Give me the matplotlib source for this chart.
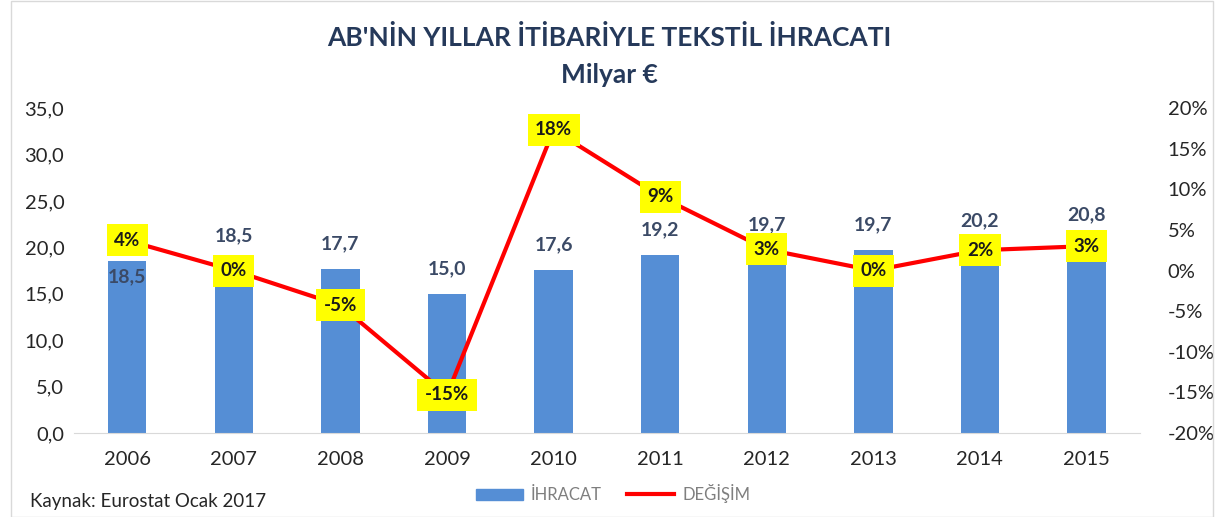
import matplotlib.pyplot as plt
import numpy as np

plt.rcParams['font.family'] = ['Lato', 'DejaVu Sans']

# Data
years = ['2006', '2007', '2008', '2009', '2010', '2011', '2012', '2013', '2014', '2015']
ihracat = [18.5, 18.5, 17.7, 15.0, 17.6, 19.2, 19.7, 19.7, 20.2, 20.8]   # milyar €
degisim = [3.7, 0.0, -4.3, -15.3, 17.3, 9.1, 2.6, 0.0, 2.5, 3.0]         # %
degisim_labels = ['4%', '0%', '-5%', '-15%', '18%', '9%', '3%', '0%', '2%', '3%']

bar_color = '#558ED5'
label_color = '#3B4A66'
title_color = '#25395A'

fig = plt.figure(figsize=(12.19, 5.17), dpi=100)
ax = fig.add_axes([0.0607, 0.1625, 0.8743, 0.6285])
x = np.arange(len(years))

# Bars
ax.bar(x, ihracat, width=0.36, color=bar_color, zorder=2)
ax.set_xlim(-0.5, len(years) - 0.5)
ax.set_ylim(0, 35)
ax.set_yticks(np.arange(0, 36, 5))
ax.set_yticklabels([f'{v:.1f}'.replace('.', ',') for v in np.arange(0, 36, 5)])
ax.set_xticks(x)
ax.set_xticklabels(years)
ax.tick_params(axis='both', length=0, labelsize=14.5, colors='#262626')
ax.tick_params(axis='x', pad=13)
ax.tick_params(axis='y', pad=7)
for s in ['top', 'right', 'left']:
    ax.spines[s].set_visible(False)
ax.spines['bottom'].set_color('#D9D9D9')

# Bar value labels
for i, v in enumerate(ihracat):
    txt = f'{v:.1f}'.replace('.', ',')
    dy = -11 if i == 0 else 18
    ax.annotate(txt, (i, v), xytext=(0, dy), textcoords='offset points',
                ha='center', va='center', fontsize=14, fontweight='bold',
                color=label_color, zorder=3)

# Percent change line
ax2 = ax.twinx()
ax2.plot(x, degisim, color='#FF0000', linewidth=3, zorder=4)
ax2.set_ylim(-20, 20)
ax2.set_yticks(np.arange(-20, 21, 5))
ax2.set_yticklabels([f'{v}%' for v in np.arange(-20, 21, 5)])
ax2.tick_params(axis='y', length=0, labelsize=14.5, colors='#262626', pad=20)
for s in ['top', 'right', 'left', 'bottom']:
    ax2.spines[s].set_visible(False)

for i, (v, lab) in enumerate(zip(degisim, degisim_labels)):
    ax2.text(i, v, lab, ha='center', va='center', fontsize=13.5, fontweight='bold',
             color='#1A1A1A', zorder=5,
             bbox=dict(boxstyle='square,pad=0.4', facecolor='#FFFF00', edgecolor='none'))

# Titles
fig.text(0.5, 0.928, "AB'NİN YILLAR İTİBARİYLE TEKSTİL İHRACATI", ha='center', va='center',
         fontsize=19, fontweight='bold', color=title_color)
fig.text(0.5, 0.855, 'Milyar €', ha='center', va='center',
         fontsize=19, fontweight='bold', color=title_color)

# Legend
h1 = plt.Rectangle((0, 0), 1, 1, color=bar_color)
h2 = plt.Line2D([0], [0], color='#FF0000', linewidth=3)
leg = fig.legend([h1, h2], ['İHRACAT', 'DEĞİŞİM'], loc='center', bbox_to_anchor=(0.503, 0.045),
                 ncol=2, frameon=False, fontsize=12, handlelength=2.8, handletextpad=0.5,
                 columnspacing=1.5)
for t in leg.get_texts():
    t.set_color('#7F7F7F')

fig.text(0.025, 0.03, 'Kaynak: Eurostat Ocak 2017', ha='left', va='center', fontsize=13.5, color='#262626')

# Chart border
fig.add_artist(plt.Rectangle((0.009, 0.0), 0.986, 0.999, transform=fig.transFigure,
                             fill=False, edgecolor='#D9D9D9', linewidth=1))

fig.savefig('out.png', dpi=100)
